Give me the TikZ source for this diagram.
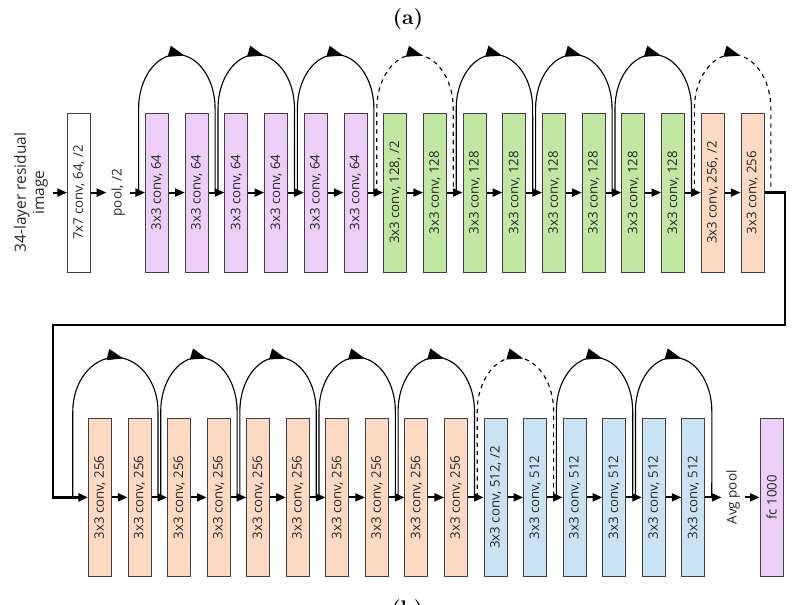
\documentclass[tikz,border=0pt]{standalone}
\usepackage{fontspec}
\newfontfamily\labelfont{Open Sans}
\usepackage{tikz}
\usetikzlibrary{calc}
\usetikzlibrary{arrows.meta}
\usetikzlibrary{decorations.markings}

\definecolor{convpurple}{RGB}{237,206,247}
\definecolor{convgreen}{RGB}{194,231,164}
\definecolor{convorange}{RGB}{252,217,194}
\definecolor{convblue}{RGB}{201,227,245}

\tikzset{
	layer/.style={draw=black!75, line width=0.7pt, rotate=90, minimum width=3.97cm, minimum height=0.575cm, inner sep=0pt, text=black!85, font=\labelfont\fontsize{9.4}{11}\selectfont},
	tag/.style={rotate=90, text=black!85, font=\labelfont\fontsize{9.6}{11}\selectfont},
	flow/.style={line width=1.3pt, -{Triangle[length=2.4mm,width=2mm]}},
	link/.style={line width=2pt, -{Triangle[length=2.4mm,width=2mm]}},
	skip/.style={line width=0.8pt, postaction={decorate}, decoration={markings, mark=at position 0.525 with {\arrow{Triangle[length=4mm,width=2.8mm]}}}}
}

\begin{document}
\begin{tikzpicture}
		\useasboundingbox (0,0) rectangle (20.225,15.125);
		
		\node(TA) at (10.2,14.65) {\fontsize{15}{18}\selectfont\bfseries (a)};
		\node(TB) at (10.18,-0.12) {\fontsize{15}{18}\selectfont\bfseries (b)};
		
		% first row
		\node[tag,align=center,font=\labelfont\fontsize{11}{13}\selectfont](IN) at (0.775,10.31) {34-layer residual\\image};
		\node[layer,fill=white](C7) at (1.975,10.31) {7x7 conv, 64, /2};
		\node[tag](PL) at (2.95,10.31) {pool, /2};
		\node[layer,fill=convpurple](P1) at (3.925,10.31) {3x3 conv, 64};
		\node[layer,fill=convpurple](P2) at (4.918,10.31) {3x3 conv, 64};
		\node[layer,fill=convpurple](P3) at (5.91,10.31) {3x3 conv, 64};
		\node[layer,fill=convpurple](P4) at (6.903,10.31) {3x3 conv, 64};
		\node[layer,fill=convpurple](P5) at (7.895,10.31) {3x3 conv, 64};
		\node[layer,fill=convpurple](P6) at (8.888,10.31) {3x3 conv, 64};
		\node[layer,fill=convgreen](G1) at (9.88,10.31) {3x3 conv, 128, /2};
		\node[layer,fill=convgreen](G2) at (10.873,10.31) {3x3 conv, 128};
		\node[layer,fill=convgreen](G3) at (11.865,10.31) {3x3 conv, 128};
		\node[layer,fill=convgreen](G4) at (12.858,10.31) {3x3 conv, 128};
		\node[layer,fill=convgreen](G5) at (13.85,10.31) {3x3 conv, 128};
		\node[layer,fill=convgreen](G6) at (14.843,10.31) {3x3 conv, 128};
		\node[layer,fill=convgreen](G7) at (15.835,10.31) {3x3 conv, 128};
		\node[layer,fill=convgreen](G8) at (16.828,10.31) {3x3 conv, 128};
		\node[layer,fill=convorange](O1) at (17.82,10.31) {3x3 conv, 256, /2};
		\node[layer,fill=convorange](O2) at (18.813,10.31) {3x3 conv, 256};
		
		% second row
		\node[layer,fill=convorange](Q1) at (2.5,2.69) {3x3 conv, 256};
		\node[layer,fill=convorange](Q2) at (3.489,2.69) {3x3 conv, 256};
		\node[layer,fill=convorange](Q3) at (4.478,2.69) {3x3 conv, 256};
		\node[layer,fill=convorange](Q4) at (5.467,2.69) {3x3 conv, 256};
		\node[layer,fill=convorange](Q5) at (6.456,2.69) {3x3 conv, 256};
		\node[layer,fill=convorange](Q6) at (7.445,2.69) {3x3 conv, 256};
		\node[layer,fill=convorange](Q7) at (8.434,2.69) {3x3 conv, 256};
		\node[layer,fill=convorange](Q8) at (9.423,2.69) {3x3 conv, 256};
		\node[layer,fill=convorange](Q9) at (10.412,2.69) {3x3 conv, 256};
		\node[layer,fill=convorange](Q10) at (11.401,2.69) {3x3 conv, 256};
		\node[layer,fill=convblue](B1) at (12.39,2.69) {3x3 conv, 512, /2};
		\node[layer,fill=convblue](B2) at (13.379,2.69) {3x3 conv, 512};
		\node[layer,fill=convblue](B3) at (14.368,2.69) {3x3 conv, 512};
		\node[layer,fill=convblue](B4) at (15.357,2.69) {3x3 conv, 512};
		\node[layer,fill=convblue](B5) at (16.346,2.69) {3x3 conv, 512};
		\node[layer,fill=convblue](B6) at (17.335,2.69) {3x3 conv, 512};
		\node[tag](AP) at (18.33,2.69) {Avg pool};
		\node[layer,fill=convpurple](FC) at (19.29,2.69) {fc 1000};
		
		% corners of the link between the rows
		\coordinate(R1) at (19.625,10.31);
		\coordinate(R2) at (19.625,7.0);
		\coordinate(R3) at (1.325,7.0);
		\coordinate(R4) at (1.325,2.69);
		
		\draw[flow] (IN)--(C7);
		\draw[flow] (C7)--(PL);
		\draw[flow] (PL)--(P1);
		\draw[flow] (P1)--(P2);
		\draw[flow] (P2)--(P3);
		\draw[flow] (P3)--(P4);
		\draw[flow] (P4)--(P5);
		\draw[flow] (P5)--(P6);
		\draw[flow] (P6)--(G1);
		\draw[flow] (G1)--(G2);
		\draw[flow] (G2)--(G3);
		\draw[flow] (G3)--(G4);
		\draw[flow] (G4)--(G5);
		\draw[flow] (G5)--(G6);
		\draw[flow] (G6)--(G7);
		\draw[flow] (G7)--(G8);
		\draw[flow] (G8)--(O1);
		\draw[flow] (O1)--(O2);
		\draw[link] (O2)--(R1)--(R2)--(R3)--(R4)--(Q1);
		\draw[flow] (Q1)--(Q2);
		\draw[flow] (Q2)--(Q3);
		\draw[flow] (Q3)--(Q4);
		\draw[flow] (Q4)--(Q5);
		\draw[flow] (Q5)--(Q6);
		\draw[flow] (Q6)--(Q7);
		\draw[flow] (Q7)--(Q8);
		\draw[flow] (Q8)--(Q9);
		\draw[flow] (Q9)--(Q10);
		\draw[flow] (Q10)--(B1);
		\draw[flow] (B1)--(B2);
		\draw[flow] (B2)--(B3);
		\draw[flow] (B3)--(B4);
		\draw[flow] (B4)--(B5);
		\draw[flow] (B5)--(B6);
		\draw[flow] (B6)--(AP);
		\draw[flow] (AP)--(FC);
		
		% shortcuts, first row
		\draw[skip] ($(P1)+(-0.46,0)$) -- ++(0,2.1) arc[start angle=180,end angle=0,x radius=0.956,y radius=1.35] -- ($(P2)+(0.46,0)$);
		\draw[skip] ($(P3)+(-0.46,0)$) -- ++(0,2.1) arc[start angle=180,end angle=0,x radius=0.956,y radius=1.35] -- ($(P4)+(0.46,0)$);
		\draw[skip] ($(P5)+(-0.46,0)$) -- ++(0,2.1) arc[start angle=180,end angle=0,x radius=0.956,y radius=1.35] -- ($(P6)+(0.46,0)$);
		\draw[skip,dashed] ($(G1)+(-0.46,0)$) -- ++(0,2.1) arc[start angle=180,end angle=0,x radius=0.956,y radius=1.35] -- ($(G2)+(0.46,0)$);
		\draw[skip] ($(G3)+(-0.46,0)$) -- ++(0,2.1) arc[start angle=180,end angle=0,x radius=0.956,y radius=1.35] -- ($(G4)+(0.46,0)$);
		\draw[skip] ($(G5)+(-0.46,0)$) -- ++(0,2.1) arc[start angle=180,end angle=0,x radius=0.956,y radius=1.35] -- ($(G6)+(0.46,0)$);
		\draw[skip] ($(G7)+(-0.46,0)$) -- ++(0,2.1) arc[start angle=180,end angle=0,x radius=0.956,y radius=1.35] -- ($(G8)+(0.46,0)$);
		\draw[skip,dashed] ($(O1)+(-0.46,0)$) -- ++(0,2.1) arc[start angle=180,end angle=0,x radius=0.956,y radius=1.35] -- ($(O2)+(0.46,0)$);
		
		% shortcuts, second row
		\draw[skip] ($(Q1)+(-0.68,0)$) -- ++(0,2.15) arc[start angle=180,end angle=0,x radius=1.065,y radius=1.35] -- ($(Q2)+(0.46,0)$);
		\draw[skip] ($(Q3)+(-0.46,0)$) -- ++(0,2.15) arc[start angle=180,end angle=0,x radius=0.955,y radius=1.35] -- ($(Q4)+(0.46,0)$);
		\draw[skip] ($(Q5)+(-0.46,0)$) -- ++(0,2.15) arc[start angle=180,end angle=0,x radius=0.955,y radius=1.35] -- ($(Q6)+(0.46,0)$);
		\draw[skip] ($(Q7)+(-0.46,0)$) -- ++(0,2.15) arc[start angle=180,end angle=0,x radius=0.955,y radius=1.35] -- ($(Q8)+(0.46,0)$);
		\draw[skip] ($(Q9)+(-0.46,0)$) -- ++(0,2.15) arc[start angle=180,end angle=0,x radius=0.955,y radius=1.35] -- ($(Q10)+(0.46,0)$);
		\draw[skip,dashed] ($(B1)+(-0.46,0)$) -- ++(0,2.15) arc[start angle=180,end angle=0,x radius=0.955,y radius=1.35] -- ($(B2)+(0.46,0)$);
		\draw[skip] ($(B3)+(-0.46,0)$) -- ++(0,2.15) arc[start angle=180,end angle=0,x radius=0.955,y radius=1.35] -- ($(B4)+(0.46,0)$);
		\draw[skip] ($(B5)+(-0.46,0)$) -- ++(0,2.15) arc[start angle=180,end angle=0,x radius=0.955,y radius=1.35] -- ($(B6)+(0.46,0)$);
	\end{tikzpicture}
\end{document}
